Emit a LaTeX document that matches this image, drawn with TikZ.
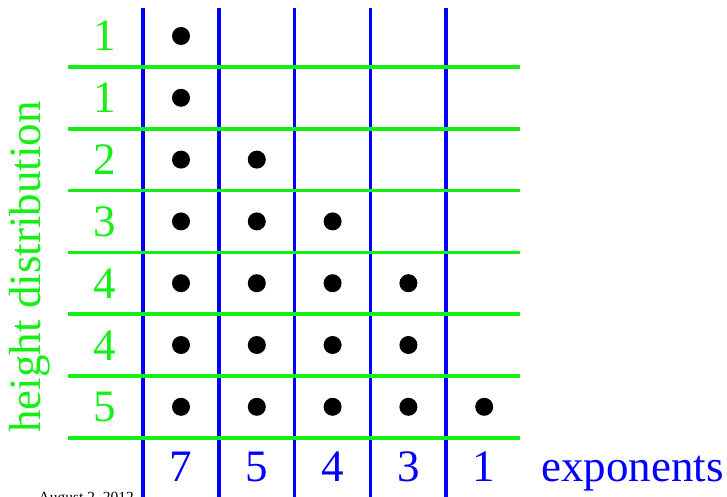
\documentclass[tikz,border=0pt]{standalone}
\usepackage{fontspec}
\setmainfont{Liberation Serif}
\usepackage{tikz}
\usepackage{xcolor}
\definecolor{distgreen}{RGB}{20,240,20}
\definecolor{expblue}{RGB}{0,0,255}
\tikzset{
    heightline/.style={draw=distgreen, line width=3.7pt},
    expline/.style={draw=expblue, line width=3.5pt},
    ponto/.style={circle, fill=black, inner sep=0pt, minimum size=18pt},
    heightnum/.style={text=distgreen, anchor=base, font=\fontsize{45}{45}\selectfont},
    expnum/.style={text=expblue, anchor=base, font=\fontsize{45}{45}\selectfont}
}

\begin{document}
\begin{tikzpicture}[x=1pt, y=-1pt]
    \useasboundingbox (0,0) rectangle (727,497);
    % vertical lines between exponents
    \foreach \c in {0,...,4}
        \draw[expline] ({143+75.8*\c},8) -- ({143+75.8*\c},497);
    % horizontal lines between rows
    \foreach \r in {0,...,6}
        \draw[heightline] (68,{67+61.8*\r}) -- (520,{67+61.8*\r});
    % heights and dots
    \foreach \h [count=\r] in {1,1,2,3,4,4,5} {
        \node[heightnum] (h\r) at (105,{51+61.8*(\r-1)}) {\h};
        \foreach \c in {1,...,\h}
            \node[ponto] (p\r\c) at ({181+75.8*(\c-1)},{36+61.8*(\r-1)}) {};
    }
    % exponents
    \foreach \e [count=\c] in {7,5,4,3,1}
        \node[expnum] (e\c) at ({181+75.8*(\c-1)},481) {\e};
    \node[expnum, anchor=base west, inner sep=0pt] (exponents) at (541,481) {exponents};
    \node[heightnum, rotate=90, anchor=base, inner sep=0pt] (dist) at (40,267) {height distribution};
    \node[anchor=base east, inner sep=0pt, font=\fontsize{15.5}{15.5}\selectfont] (stamp) at (134,502) {August 2, 2012};
\end{tikzpicture}
\end{document}
